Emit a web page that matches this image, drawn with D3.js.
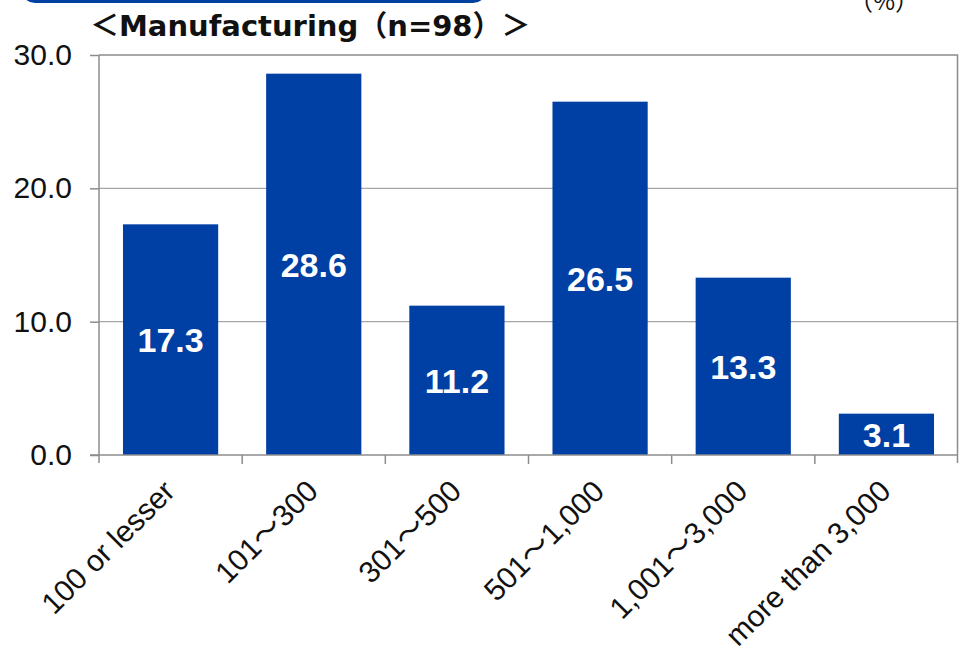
<!DOCTYPE html>
<html>
<head>
<meta charset="utf-8">
<script src="https://cdn.jsdelivr.net/npm/d3@7"></script>
<style>
  body { margin: 0; background: #fff; }
  svg { display: block; }
</style>
</head>
<body>
<div id="chart"></div>
<script>
// chart values
let categories = ["100 or lesser", "101～300", "301～500", "501～1,000", "1,001～3,000", "more than 3,000"];
let values = [17.3, 28.6, 11.2, 26.5, 13.3, 3.1];
let yTicks = [0, 10, 20, 30];
let title = "＜Manufacturing（n=98）＞";
let unitLabel = "（%）";

function drawChart() {
  // set the dimensions and margins of the graph
  let margin = {top: 55, right: 1, bottom: 200, left: 99},
  width = 959 - margin.left - margin.right,
  height = 655 - margin.top - margin.bottom;

  let svg = d3.select("#chart")
  .append("svg")
  .attr("width", 959)
  .attr("height", 655);

  // blue header tab, cut off at the top
  svg.append("rect")
  .attr("x", 21).attr("y", -40)
  .attr("width", 466).attr("height", 43)
  .attr("rx", 14)
  .attr("fill", "#0040a0");

  // title
  svg.append("text")
  .attr("x", 90).attr("y", 36)
  .attr("font-family", "'DejaVu Sans', 'Noto Sans CJK JP', sans-serif")
  .attr("font-weight", "bold")
  .attr("font-size", 29)
  .attr("fill", "#111")
  .text(title);

  // unit label
  svg.append("text")
  .attr("x", 884).attr("y", 10)
  .attr("text-anchor", "middle")
  .attr("font-family", "'Noto Sans CJK JP', sans-serif")
  .attr("font-size", 24)
  .attr("fill", "#111")
  .text(unitLabel);

  let g = svg.append("g")
  .attr("transform", "translate(" + margin.left + "," + margin.top + ")");

  // scales
  let x = d3.scaleBand()
  .domain(categories)
  .range([0, width])
  .paddingInner(0.335)
  .paddingOuter(0.1675);

  let y = d3.scaleLinear()
  .domain([0, 30])
  .range([height, 0]);

  // gridlines
  g.append("g")
  .selectAll("line")
  .data(yTicks.filter(function(d) { return d > 0 && d < 30; }))
  .enter()
  .append("line")
    .attr("x1", 0).attr("x2", width)
    .attr("y1", function(d) { return y(d); })
    .attr("y2", function(d) { return y(d); })
    .attr("stroke", "#a6a6a6")
    .attr("stroke-width", 1.2);

  // plot area frame (top + right)
  g.append("path")
  .attr("d", "M0," + y(30) + "H" + (width - 0.5) + "V" + (height + 8))
  .attr("fill", "none")
  .attr("stroke", "#8c8c8c")
  .attr("stroke-width", 1.5);

  // bars
  g.append("g")
  .selectAll("rect")
  .data(values)
  .enter()
  .append("rect")
    .attr("x", function(d, i) { return x(categories[i]); })
    .attr("y", function(d) { return y(d); })
    .attr("width", x.bandwidth())
    .attr("height", function(d) { return height - y(d); })
    .attr("fill", "#003fa3");

  // value labels
  g.append("g")
  .selectAll("text")
  .data(values)
  .enter()
  .append("text")
    .attr("x", function(d, i) { return x(categories[i]) + x.bandwidth() / 2; })
    .attr("y", function(d) { return y(d / 2); })
    .attr("dy", "0.36em")
    .attr("text-anchor", "middle")
    .attr("font-family", "'Liberation Sans', Arial, sans-serif")
    .attr("font-weight", "bold")
    .attr("font-size", 34)
    .attr("fill", "#fff")
    .text(function(d) { return d.toFixed(1); });

  // Y axis
  let yAxis = g.append("g")
  .call(d3.axisLeft(y).tickValues(yTicks).tickSize(9).tickPadding(18)
    .tickFormat(function(d) { return d.toFixed(1); }));
  yAxis.select(".domain").remove();
  yAxis.selectAll(".tick line").attr("stroke", "#8c8c8c").attr("stroke-width", 1.5);
  yAxis.selectAll(".tick text")
  .attr("font-family", "'Liberation Sans', Arial, sans-serif")
  .attr("font-size", 30)
  .attr("fill", "#111");
  g.append("line")
  .attr("x1", 0).attr("x2", 0)
  .attr("y1", 0).attr("y2", height + 8)
  .attr("stroke", "#8c8c8c")
  .attr("stroke-width", 1.5);

  // X axis line with ticks at the category boundaries
  g.append("line")
  .attr("x1", -9).attr("x2", width)
  .attr("y1", height).attr("y2", height)
  .attr("stroke", "#8c8c8c")
  .attr("stroke-width", 1.5);
  g.append("g")
  .selectAll("line")
  .data(categories.slice(1))
  .enter()
  .append("line")
    .attr("x1", function(d) { return x(d) - x.step() * x.paddingInner() / 2; })
    .attr("x2", function(d) { return x(d) - x.step() * x.paddingInner() / 2; })
    .attr("y1", height).attr("y2", height + 9)
    .attr("stroke", "#8c8c8c")
    .attr("stroke-width", 1.5);

  // rotated category labels
  g.append("g")
  .selectAll("text")
  .data(categories)
  .enter()
  .append("text")
    .attr("transform", function(d) {
      return "translate(" + (x(d) + x.bandwidth() / 2 - 9) + "," + (height + 23) + ") rotate(-45)";
    })
    .attr("dy", "0.71em")
    .attr("text-anchor", "end")
    .attr("font-family", "'Liberation Sans', Arial, 'Noto Sans CJK JP', sans-serif")
    .attr("font-size", 30)
    .attr("fill", "#111")
    .text(function(d) { return d; });
}

drawChart();
</script>
</body>
</html>
